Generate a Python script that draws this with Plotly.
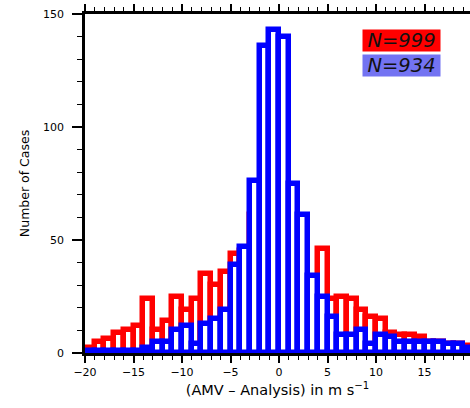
import plotly.graph_objects as go

# Histogram bins: 1 m/s wide, from -20 to 20
bin_left_edges = list(range(-20, 20))
bin_centers = [e + 0.5 for e in bin_left_edges]

# Counts per bin (N=999 sample)
red_counts = [2, 5, 6, 9, 10, 12, 24, 10, 14, 25,
              19, 24, 35, 30, 36, 44, 45, 61, 70, 72,
              75, 71, 57, 31, 46, 24, 25, 24, 19, 16,
              15, 9, 8, 8, 7, 5, 5, 4, 4, 3]

# Counts per bin (N=934 sample)
blue_counts = [1, 1, 1, 1, 1, 1, 2, 5, 5, 10,
               12, 4, 13, 15, 19, 39, 47, 76, 136, 143,
               140, 75, 61, 34, 25, 16, 8, 8, 10, 4,
               8, 7, 5, 5, 5, 5, 5, 4, 4, 2]

legend_labels = ["N=999", "N=934"]

x_major_ticks = [-20, -15, -10, -5, 0, 5, 10, 15, 20]
y_major_ticks = [0, 50, 100, 150]

W, H = 470, 408
ML, MR, MT, MB = 85, 0, 14, 55
PW, PH = W - ML - MR, H - MT - MB

BIN_W = 1.0
LINE_W = 5.5

fig = go.Figure()
for counts, col in [(red_counts, "#ff0000"), (blue_counts, "#0000ff")]:
    fig.add_trace(go.Bar(
        x=bin_centers, y=counts, width=BIN_W,
        marker=dict(color="white", line=dict(color=col, width=LINE_W)),
        showlegend=False,
    ))

font_family = "DejaVu Sans"

fig.update_layout(
    width=W, height=H,
    margin=dict(l=ML, r=MR, t=MT, b=MB, autoexpand=False),
    paper_bgcolor="white", plot_bgcolor="white",
    barmode="overlay", bargap=0,
    font=dict(family=font_family, color="black"),
    xaxis=dict(
        range=[-20, -20 + PW / 9.7], tickvals=x_major_ticks,
        ticks="outside", ticklen=7, tickwidth=1.5, tickcolor="black",
        minor=dict(dtick=1, tick0=0, ticks="outside", ticklen=4, tickwidth=1, tickcolor="black"),
        showline=True, linewidth=2.5, linecolor="black", mirror="ticks",
        showgrid=False, zeroline=False,
        tickfont=dict(size=11),
        title=dict(text="(AMV – Analysis) in m s<sup>−1</sup>", font=dict(size=14.5), standoff=7),
        automargin=False,
    ),
    yaxis=dict(
        range=[0, 150], tickvals=y_major_ticks,
        ticks="outside", ticklen=10, tickwidth=1.5, tickcolor="black",
        minor=dict(dtick=10, tick0=0, ticks="outside", ticklen=5, tickwidth=1, tickcolor="black"),
        showline=True, linewidth=2.5, linecolor="black", mirror=False,
        showgrid=False, zeroline=False,
        tickfont=dict(size=11), ticklabelstandoff=6,
        title=dict(text="Number of Cases", font=dict(size=12.5), standoff=11),
        automargin=False,
    ),
)

# Sample-size labels in coloured boxes (top right)
box_specs = [(legend_labels[0], "#ff0000", 40.5), (legend_labels[1], "#7373f2", 66.0)]
for label, bg, yc in box_specs:
    fig.add_annotation(
        xref="paper", yref="paper",
        x=(401.5 - ML) / PW, y=1 - (yc - MT) / PH,
        text=f"<i>{label}</i>", showarrow=False,
        width=77, height=21, bgcolor=bg, borderpad=0,
        font=dict(size=19.5, color="#111111", family=font_family),
        xanchor="center", yanchor="middle",
    )

fig.write_html("out.html")
